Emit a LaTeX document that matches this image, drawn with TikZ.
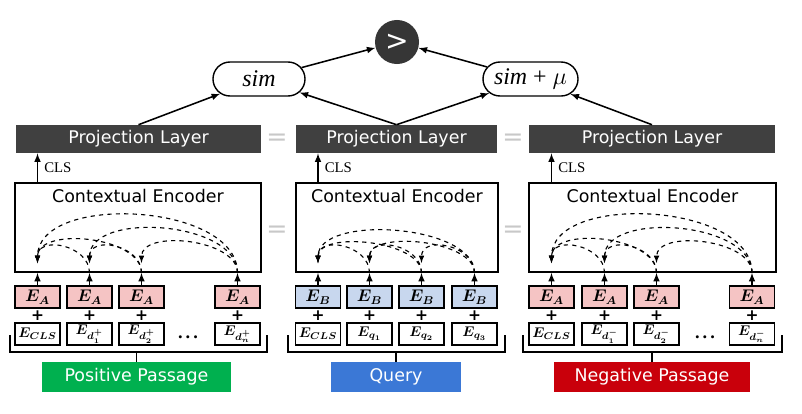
\documentclass[tikz,border=0pt]{standalone}
\usepackage{fontspec}
\setmainfont{Liberation Serif}
\setsansfont{DejaVu Sans}
\usetikzlibrary{shapes.misc,positioning}

\definecolor{projgray}{HTML}{404040}
\definecolor{gtgray}{HTML}{363636}
\definecolor{pinkA}{HTML}{F5C4C4}
\definecolor{blueB}{HTML}{C8D7EE}
\definecolor{posgreen}{HTML}{00B04F}
\definecolor{qblue}{HTML}{3B78D6}
\definecolor{negred}{HTML}{C9000B}
\definecolor{eqgray}{HTML}{C8C8C8}

\tikzset{
  proj/.style={fill=projgray, text=white, minimum height=0.7cm, inner sep=0pt,
    font=\sffamily\fontsize{12.4}{14}\selectfont},
  encoder/.style={draw, line width=1.2pt, minimum height=2.225cm, inner sep=0pt},
  enctitle/.style={inner sep=0pt, font=\sffamily\fontsize{12.4}{14}\selectfont},
  embbox/.style={draw, line width=0.9pt, minimum width=1.125cm, minimum height=0.55cm,
    inner sep=0pt, font=\fontsize{11.5}{12}\selectfont\boldmath},
  tokbox/.style={embbox, fill=white, font=\fontsize{10}{11}\selectfont\boldmath},
  tag/.style={text=white, minimum height=0.75cm, inner sep=0pt,
    font=\sffamily\fontsize{12.4}{14}\selectfont},
  simbox/.style={rounded rectangle, draw, line width=1pt, minimum height=0.85cm,
    inner sep=0pt, font=\fontsize{17}{18}\selectfont},
  eqsign/.style={text=eqgray, font=\sffamily\fontsize{18}{18}\selectfont},
  plus/.style={inner sep=0pt, font=\sffamily\bfseries\fontsize{11}{12}\selectfont},
  att/.style={dashed, line width=0.8pt},
  link/.style={->, line width=1.1pt},
}

\begin{document}
\begin{tikzpicture}[x=0.025cm, y=-0.025cm, >={latex}]
 \useasboundingbox (0,0) rectangle (802,414);

 %Top
 \node (gt) [circle, fill=gtgray, text=white, minimum size=1.1cm, inner sep=0pt,
   font=\sffamily\fontsize{20}{20}\selectfont] at (397,42) {>};
 \node (simP) [simbox, minimum width=2.3cm] at (259,79) {\textit{sim}};
 \node (simN) [simbox, minimum width=2.375cm] at (530.5,79) {\textit{sim} + $\mu$};

 %Projection layers
 \node (projL) [proj, minimum width=6.125cm] at (138.5,139) {Projection Layer};
 \node (projM) [proj, minimum width=5.025cm] at (396.5,139) {Projection Layer};
 \node (projR) [proj, minimum width=6.15cm] at (652,139) {Projection Layer};
 \node (eqP1) [eqsign] at (277,140) {=};
 \node (eqP2) [eqsign] at (513,140) {=};

 %Encoders
 \node (encL) [encoder, minimum width=6.15cm] at (138,227.5) {};
 \node (encM) [encoder, minimum width=5.05cm] at (397,227.5) {};
 \node (encR) [encoder, minimum width=6.175cm] at (652.5,227.5) {};
 \node (encLtitle) [enctitle, below=0.17cm of encL.north] {Contextual Encoder};
 \node (encMtitle) [enctitle, below=0.17cm of encM.north] {Contextual Encoder};
 \node (encRtitle) [enctitle, below=0.17cm of encR.north] {Contextual Encoder};
 \node (eqE1) [eqsign] at (277,232) {=};
 \node (eqE2) [eqsign] at (513,232) {=};

 %Embeddings
 \foreach \i/\x/\lab in {1/37.5/{CLS},2/89.5/{d_1^+},3/141.5/{d_2^+},4/237.5/{d_n^+}} {
   \node (eaL\i) [embbox, fill=pinkA] at (\x,297) {$E_A$};
   \node (tkL\i) [tokbox] at (\x,334) {$E_{\lab}$};
   \node (plL\i) [plus] at (\x,316) {+};
 }
 \foreach \i/\x/\lab in {1/318/{CLS},2/369.5/{q_1},3/421.5/{q_2},4/474.5/{q_3}} {
   \node (eaM\i) [embbox, fill=blueB] at (\x,297) {$E_B$};
   \node (tkM\i) [tokbox] at (\x,334) {$E_{\lab}$};
   \node (plM\i) [plus] at (\x,316) {+};
 }
 \foreach \i/\x/\lab in {1/551.5/{CLS},2/604.5/{d_1^-},3/656.5/{d_2^-},4/752/{d_n^-}} {
   \node (eaR\i) [embbox, fill=pinkA] at (\x,297) {$E_A$};
   \node (tkR\i) [tokbox] at (\x,334) {$E_{\lab}$};
   \node (plR\i) [plus] at (\x,316) {+};
 }
 \node (dotsL) [font=\bfseries\fontsize{13}{13}\selectfont] at (188,337) {.\,.\,.};
 \node (dotsR) [font=\bfseries\fontsize{13}{13}\selectfont] at (705,337) {.\,.\,.};

 %Inputs into encoders and attention arcs
 \foreach \col/\loose in {L/0.9,M/0.8,R/0.9} {
   \foreach \i in {1,2,3,4}
     \draw[link] (ea\col\i.north) -- (ea\col\i |- enc\col.south);
   \foreach \i/\j in {1/2,1/3,1/4,2/3,2/4,3/4}
     \draw[att,->] (ea\col\j |- enc\col.south)
       to[out=90,in=90,looseness=\loose,min distance=0.7cm]
       ([yshift=7pt]ea\col\i |- enc\col.south);
   \draw[link] (ea\col1 |- enc\col.north) -- (ea\col1 |- proj\col.south)
     node[midway, right=1pt, font=\fontsize{10.5}{12}\selectfont] {CLS};
 }

 %Sources
 \node (posP) [tag, fill=posgreen, minimum width=4.725cm] at (136.5,377) {Positive Passage};
 \node (qry) [tag, fill=qblue, minimum width=3.25cm] at (396,377) {Query};
 \node (negP) [tag, fill=negred, minimum width=4.9cm] at (652,377) {Negative Passage};
 \draw[line width=1pt] (10,335) |- (267,352) -- (267,335);
 \draw[line width=1pt] (288,335) |- (505,352) -- (505,335);
 \draw[line width=1pt] (523,335) |- (782,352) -- (782,335);
 \draw[line width=1pt] (posP.north) -- ++(0,-10);
 \draw[line width=1pt] (qry.north) -- ++(0,-10);
 \draw[line width=1pt] (negP.north) -- ++(0,-10);

 %Scores
 \draw[link] (projL.north) -- (simP);
 \draw[link] (projM.north) -- (simP);
 \draw[link] (projM.north) -- (simN);
 \draw[link] (projR.north) -- (simN);
 \draw[link] (simP) -- (gt);
 \draw[link] (simN) -- (gt);
\end{tikzpicture}
\end{document}
